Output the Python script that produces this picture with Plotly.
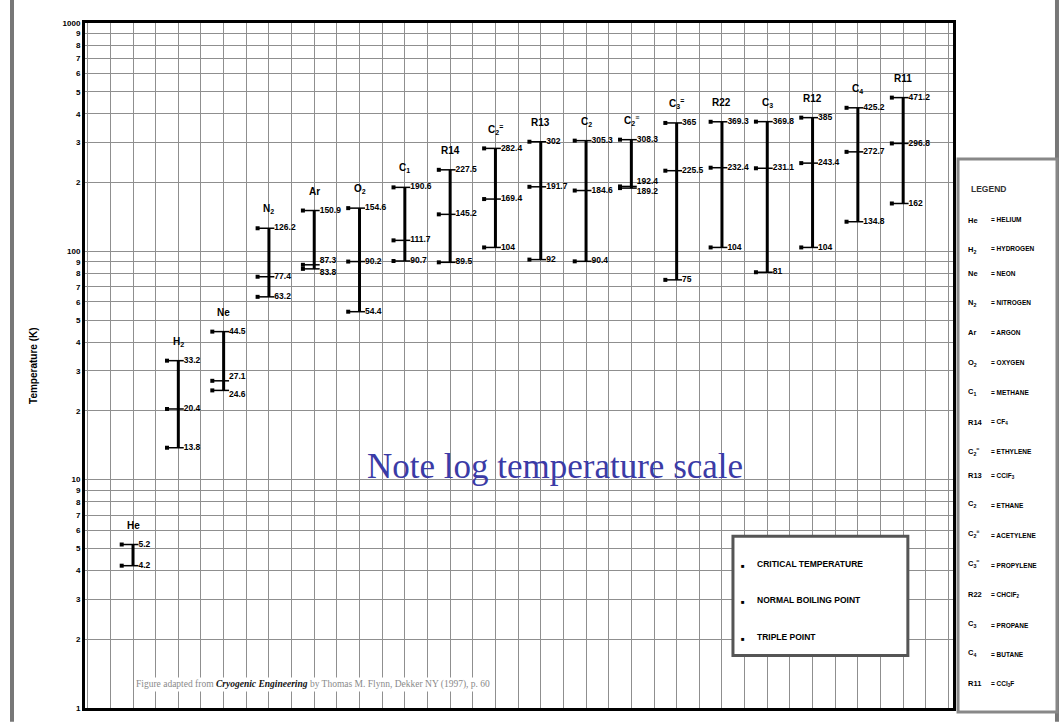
import math
import plotly.graph_objects as go

# ---------------- data ----------------
fluids = ["He", "H2", "Ne", "N2", "Ar", "O2", "C1", "R14", "C2=", "R13",
          "C2", "C2≡", "C3=", "R22", "C3", "R12", "C4", "R11"]
fluid_labels = ["He", "H<sub>2</sub>", "Ne", "N<sub>2</sub>", "Ar", "O<sub>2</sub>",
                "C<sub>1</sub>", "R14", "C<sub>2</sub><sup>=</sup>", "R13", "C<sub>2</sub>",
                "C<sub>2</sub><sup>≡</sup>", "C<sub>3</sub><sup>=</sup>", "R22", "C<sub>3</sub>",
                "R12", "C<sub>4</sub>", "R11"]
critical_temp = [5.2, 33.2, 44.5, 126.2, 150.9, 154.6, 190.6, 227.5, 282.4, 302.0,
                 305.3, 308.3, 365.0, 369.3, 369.8, 385.0, 425.2, 471.2]
boiling_point = [4.2, 20.4, 27.1, 77.4, 87.3, 90.2, 111.7, 145.2, 169.4, 191.7,
                 184.6, 189.2, 225.5, 232.4, 231.1, 243.4, 272.7, 296.8]
triple_point = [None, 13.8, 24.6, 63.2, 83.8, 54.4, 90.7, 89.5, 104.0, 92.0,
                90.4, 192.4, 75.0, 104.0, 81.0, 104.0, 134.8, 162.0]

legend_abbr = ["He", "H<sub>2</sub>", "Ne", "N<sub>2</sub>", "Ar", "O<sub>2</sub>",
               "C<sub>1</sub>", "R14", "C<sub>2</sub><sup>=</sup>", "R13", "C<sub>2</sub>",
               "C<sub>2</sub><sup>≡</sup>", "C<sub>3</sub><sup>=</sup>", "R22", "C<sub>3</sub>",
               "C<sub>4</sub>", "R11"]
legend_names = ["HELIUM", "HYDROGEN", "NEON", "NITROGEN", "ARGON", "OXYGEN", "METHANE",
                "CF<sub>4</sub>", "ETHYLENE", "CClF<sub>3</sub>", "ETHANE", "ACETYLENE",
                "PROPYLENE", "CHClF<sub>2</sub>", "PROPANE", "BUTANE", "CCl<sub>3</sub>F"]
point_kinds = ["CRITICAL TEMPERATURE", "NORMAL BOILING POINT", "TRIPLE POINT"]

tick_vals = [d * 10 ** e for e in range(3) for d in range(1, 10)] + [1000]
tick_text = [str(d) if d > 1 else str(10 ** e) for e in range(3) for d in range(1, 10)] + ["1000"]

# ---------------- style ----------------
label_pos_override = {("Ar", "nbp"): "top right", ("Ar", "tp"): "bottom right",
                      ("C2≡", "tp"): "top right", ("C2≡", "nbp"): "bottom right",
                      ("Ne", "nbp"): "top right", ("Ne", "tp"): "bottom right"}
GRID = "#8f8f8f"
FONT = "Liberation Sans, Arial, sans-serif"

fig = go.Figure()

xs = list(range(1, len(fluids) + 1))

# vertical range bars
bx, by = [], []
for x, tc, nb, tp in zip(xs, critical_temp, boiling_point, triple_point):
    vals = [v for v in (tc, nb, tp) if v is not None]
    bx += [x, x, None]
    by += [min(vals), max(vals), None]
fig.add_trace(go.Scatter(x=bx, y=by, mode="lines", line=dict(color="black", width=3),
                         hoverinfo="skip", showlegend=False))

# horizontal ticks, markers and labels
tx, ty, mx, my, lx, ly, lt, lp = [], [], [], [], [], [], [], []
for name, x, tc, nb, tp in zip(fluids, xs, critical_temp, boiling_point, triple_point):
    for kind, v in (("tc", tc), ("nbp", nb), ("tp", tp)):
        if v is None:
            continue
        tx += [x - 0.25, x + 0.12, None]
        ty += [v, v, None]
        mx.append(x - 0.25)
        my.append(v)
        lx.append(x + 0.12)
        ly.append(v)
        lt.append("<b>%g</b>" % v)
        lp.append(label_pos_override.get((name, kind), "middle right"))
fig.add_trace(go.Scatter(x=tx, y=ty, mode="lines", line=dict(color="black", width=1.5),
                         hoverinfo="skip", showlegend=False))
fig.add_trace(go.Scatter(x=mx, y=my, mode="markers",
                         marker=dict(symbol="square", size=4, color="black"),
                         hoverinfo="skip", showlegend=False))
fig.add_trace(go.Scatter(x=lx, y=ly, mode="text", text=lt, textposition=lp,
                         textfont=dict(size=8.5, color="black", family=FONT),
                         hoverinfo="skip", showlegend=False))

# fluid names above the bars
for x, lab, tc in zip(xs, fluid_labels, critical_temp):
    fig.add_annotation(x=x, y=math.log10(tc), text="<b>%s</b>" % lab, showarrow=False,
                       yshift=19, font=dict(size=10, color="black", family=FONT))

# ---------------- layout ----------------
fig.update_layout(
    width=1062, height=725,
    margin=dict(l=85, r=109, t=23, b=12),
    paper_bgcolor="white", plot_bgcolor="white",
    font=dict(family=FONT, color="black"),
    xaxis=dict(range=[-0.06, 19.1], tick0=0, dtick=0.5, showticklabels=False,
               showgrid=True, gridcolor=GRID, gridwidth=1.3, zeroline=False,
               showline=True, linecolor="black", linewidth=3, mirror=True, ticks=""),
    yaxis=dict(type="log", range=[0, 3], tickvals=tick_vals, ticktext=["<b>%s</b>" % t for t in tick_text],
               tickfont=dict(size=8, color="black", family=FONT),
               showgrid=True, gridcolor=GRID, gridwidth=1.3, zeroline=False,
               showline=True, linecolor="black", linewidth=3, mirror=True, ticks=""),
)

# y axis title
fig.add_annotation(xref="paper", yref="paper", x=-0.068, y=0.5, text="<b>Temperature (K)</b>",
                   textangle=-90, showarrow=False, font=dict(size=10, color="black", family=FONT))

# note text
fig.add_annotation(xref="paper", yref="paper", x=0.5415, y=0.352, text="Note log temperature scale",
                   showarrow=False, font=dict(size=35, color="#3b3ba6",
                                              family="Liberation Serif, Times New Roman, serif"))

# footer
fig.add_annotation(xref="paper", yref="paper", x=0.057, y=0.024, xanchor="left",
                   text="Figure adapted from <b><i><span style='color:#111'>Cryogenic Engineering</span></i></b>"
                        " by Thomas M. Flynn, Dekker NY (1997), p. 60",
                   showarrow=False, bgcolor="white",
                   font=dict(size=9.5, color="#8a8a8a", family="Liberation Serif, serif"))

# point-type legend box
fig.add_shape(type="rect", xref="paper", yref="paper", x0=0.7465, x1=0.948, y0=0.0768, y1=0.2507,
              line=dict(color="#555", width=3), fillcolor="white", layer="above")
for i, k in enumerate(point_kinds):
    yy = 0.2 - i * 0.053
    fig.add_annotation(xref="paper", yref="paper", x=0.7627, y=yy, text="■", showarrow=False,
                       font=dict(size=6, color="black"))
    fig.add_annotation(xref="paper", yref="paper", x=0.772, y=yy, xanchor="left",
                       text="<b>%s</b>" % k, showarrow=False,
                       font=dict(size=8.5, color="black", family=FONT))

# outer frame lines
fig.add_shape(type="line", xref="paper", yref="paper", x0=-0.0841, x1=-0.0841, y0=-0.02, y1=1.04,
              line=dict(color="#777", width=4))
fig.add_shape(type="line", xref="paper", yref="paper", x0=1.1198, x1=1.1198, y0=-0.02, y1=1.04,
              line=dict(color="#777", width=4))
# fluid legend box
fig.add_shape(type="rect", xref="paper", yref="paper", x0=1.0058, x1=1.1198, y0=-0.006, y1=0.8014,
              line=dict(color="#888", width=3), fillcolor="white")
fig.add_annotation(xref="paper", yref="paper", x=1.063, y=(713 - 183) / 690, text="<b>LEGEND</b>",
                   showarrow=False, font=dict(size=8.5, color="#333", family=FONT))
for i, (a, n) in enumerate(zip(legend_abbr, legend_names)):
    yy = (713 - (215 + 30 * i)) / 690
    fig.add_annotation(xref="paper", yref="paper", x=1.0155, y=yy, xanchor="left",
                       text="<b>%s</b>" % a, showarrow=False,
                       font=dict(size=7.5, color="black", family=FONT))
    fig.add_annotation(xref="paper", yref="paper", x=1.041, y=yy, xanchor="left",
                       text="<b>= %s</b>" % n, showarrow=False,
                       font=dict(size=6.5, color="black", family=FONT))

fig.write_html("out.html", config={"displayModeBar": False},
               post_script="document.body.style.margin='0';")
